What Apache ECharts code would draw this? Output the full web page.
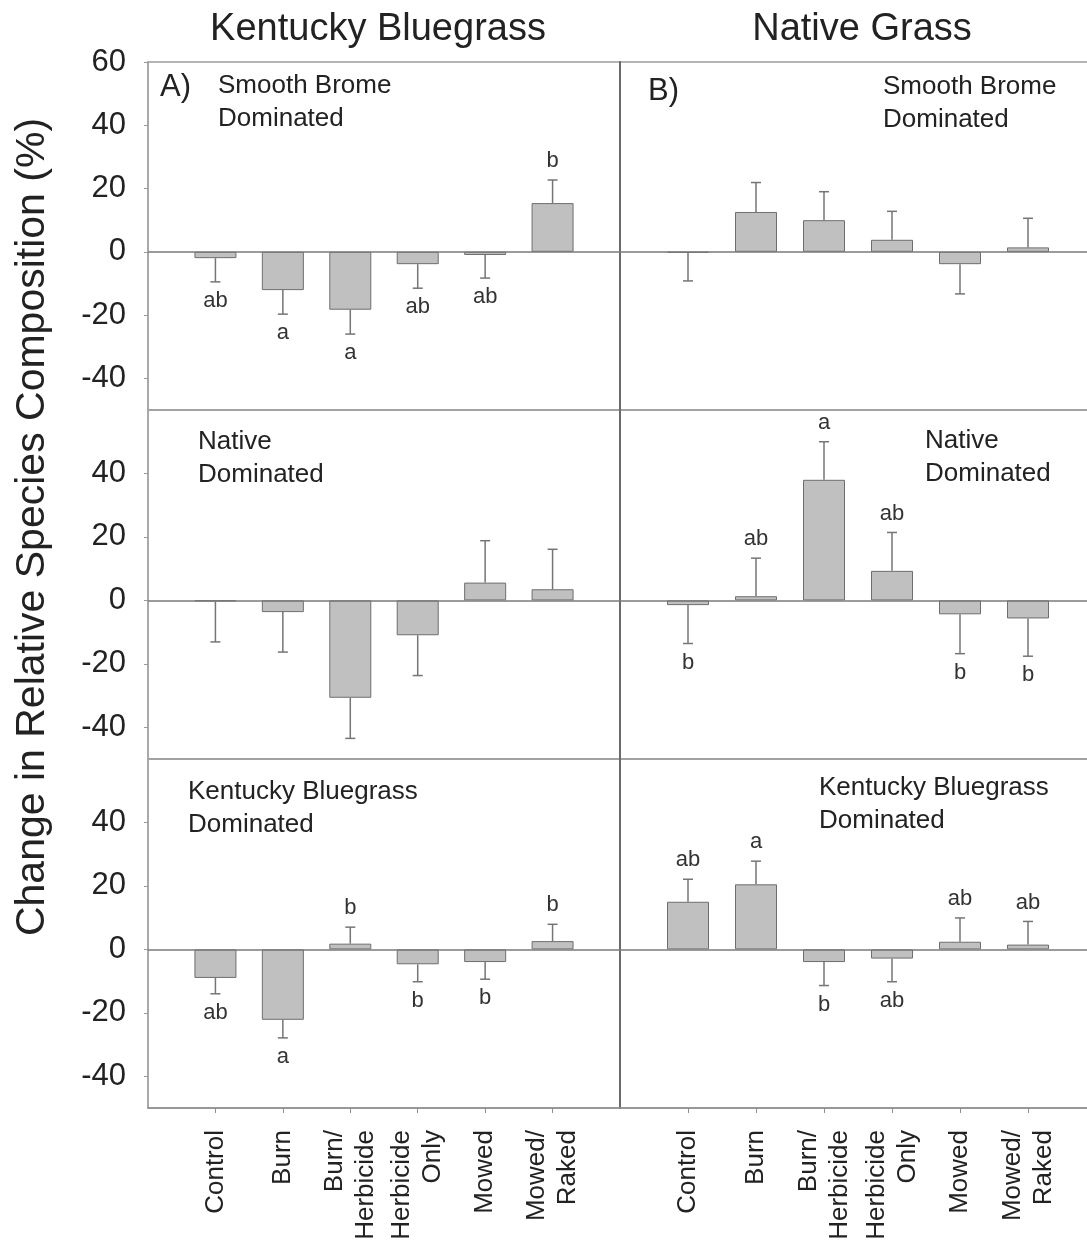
<!DOCTYPE html>
<html lang="en">
<head>
<meta charset="UTF-8">
<title>Change in Relative Species Composition</title>
<script src="https://cdn.jsdelivr.net/npm/echarts@6.0.0/dist/echarts.min.js"></script>
<style>html,body{margin:0;padding:0;background:#fff;}</style>
</head>
<body>
<div id="main" style="width:1087px;height:1246px;"></div>
<script>
// treatments on the x axis
var categories = ['Control', 'Burn', 'Burn/\nHerbicide', 'Herbicide\nOnly', 'Mowed', 'Mowed/\nRaked'];
var yTicksTop = [-40, -20, 0, 20, 40, 60];
var yTicksLower = [-40, -20, 0, 20, 40];

// A) Kentucky Bluegrass
var kbSmoothBrome = [-2.0, -12.1, -18.3, -3.9, -1.0, 15.4];
var kbSmoothBromeErr = [7.5, 7.6, 7.7, 7.6, 7.3, 7.3];
var kbSmoothBromeLetters = ['ab', 'a', 'a', 'ab', 'ab', 'b'];

var kbNative = [-0.3, -3.7, -30.7, -11.0, 5.6, 3.5];
var kbNativeErr = [12.8, 12.6, 12.8, 12.7, 13.2, 12.6];
var kbNativeLetters = ['', '', '', '', '', ''];

var kbBluegrass = [-9.0, -22.2, 1.8, -4.7, -4.0, 2.6];
var kbBluegrassErr = [5.0, 5.7, 5.2, 5.5, 5.4, 5.3];
var kbBluegrassLetters = ['ab', 'a', 'b', 'b', 'b', 'b'];

// B) Native Grass
var ngSmoothBrome = [-0.3, 12.6, 10.0, 3.8, -3.9, 1.4];
var ngSmoothBromeErr = [8.9, 9.3, 9.0, 9.0, 9.4, 9.2];
var ngSmoothBromeLetters = ['', '', '', '', '', ''];

var ngNative = [-1.5, 1.3, 38.0, 9.3, -4.4, -5.7];
var ngNativeErr = [12.1, 12.0, 12.0, 12.1, 12.4, 11.9];
var ngNativeLetters = ['b', 'ab', 'a', 'ab', 'b', 'b'];

var ngBluegrass = [15.0, 20.5, -4.0, -2.9, 2.4, 1.5];
var ngBluegrassErr = [7.1, 7.3, 7.4, 7.3, 7.5, 7.3];
var ngBluegrassLetters = ['ab', 'a', 'b', 'ab', 'ab', 'ab'];

var FONT = '"Liberation Sans", Arial, Helvetica, sans-serif';
var TEXT = '#222';

// rows x columns
var panels = [
    [kbSmoothBrome, kbSmoothBromeErr, kbSmoothBromeLetters],
    [ngSmoothBrome, ngSmoothBromeErr, ngSmoothBromeLetters],
    [kbNative, kbNativeErr, kbNativeLetters],
    [ngNative, ngNativeErr, ngNativeLetters],
    [kbBluegrass, kbBluegrassErr, kbBluegrassLetters],
    [ngBluegrass, ngBluegrassErr, ngBluegrassLetters]
];

var colLeft = [148, 620], colWidth = [472, 476];
var rowTop = [62, 410, 759], rowHeight = [348, 349, 349];
var catValues = categories.map(function (c, i) { return i + 1; });

var makeErrorBar = function (letters) {
    return function (params, api) {
        var x = api.value(0), v = api.value(1), e = api.value(2);
        var dir = v < 0 ? -1 : 1;
        var p0 = api.coord([x, v]);
        var p1 = api.coord([x, v + dir * e]);
        var style = {stroke: '#757575', lineWidth: 1.5};
        var children = [
            {type: 'line', shape: {x1: p0[0], y1: p0[1], x2: p1[0], y2: p1[1]}, style: style},
            {type: 'line', shape: {x1: p1[0] - 5, y1: p1[1], x2: p1[0] + 5, y2: p1[1]}, style: style}
        ];
        var t = letters[params.dataIndex];
        if (t) {
            children.push({
                type: 'text',
                x: p1[0], y: p1[1] - dir * 19,
                style: {text: t, align: 'center', verticalAlign: 'middle',
                        fontSize: 22, fontFamily: FONT, fill: '#333'}
            });
        }
        return {type: 'group', children: children};
    };
};

var grids = [], xAxes = [], yAxes = [], series = [];
for (var r = 0; r < 3; r++) {
    for (var c = 0; c < 2; c++) {
        var idx = r * 2 + c;
        var p = panels[idx];
        var ticks = r === 0 ? yTicksTop : yTicksLower;
        grids.push({
            left: colLeft[c], top: rowTop[r], width: colWidth[c], height: rowHeight[r],
            show: true, borderColor: '#9c9c9c', borderWidth: 1.5,
            outerBoundsMode: 'none', containLabel: false
        });
        xAxes.push({
            gridIndex: idx, type: 'value', min: 0, max: 7, interval: 1,
            show: r === 2,
            axisLine: {show: true, onZero: false, lineStyle: {color: '#8e8e8e', width: 1.5}},
            axisTick: {show: true, customValues: catValues, length: 5, lineStyle: {color: '#8e8e8e'}},
            axisLabel: {
                customValues: catValues, rotate: 90, margin: 22,
                fontSize: 26, lineHeight: 31, color: TEXT, fontFamily: FONT,
                formatter: function (v) { return categories[Math.round(v) - 1] || ''; }
            },
            splitLine: {show: false}
        });
        yAxes.push({
            gridIndex: idx, type: 'value', min: -50, max: 60, interval: 10,
            axisLine: {show: true, lineStyle: {color: c === 0 ? '#a6a6a6' : '#6a6a6a', width: c === 0 ? 1.5 : 2}},
            axisTick: {show: c === 0, customValues: ticks, length: 4, lineStyle: {color: '#9a9a9a'}},
            axisLabel: {
                show: c === 0, customValues: ticks, margin: 22,
                fontSize: 31, color: TEXT, fontFamily: FONT,
                formatter: function (v) { return v; }
            },
            splitLine: {show: false}
        });
        series.push({
            type: 'bar', xAxisIndex: idx, yAxisIndex: idx,
            barWidth: 42,
            data: p[0].map(function (v, i) { return [i + 1, v]; }),
            itemStyle: {color: '#c0c0c0', borderColor: '#6e6e6e', borderWidth: 1},
            markLine: {
                silent: true, symbol: 'none', label: {show: false},
                lineStyle: {color: '#7a7a7a', width: 1.5, type: 'solid'},
                data: [{yAxis: 0}]
            },
            z: 2
        });
        series.push({
            type: 'custom', xAxisIndex: idx, yAxisIndex: idx,
            data: p[0].map(function (v, i) { return [i + 1, v, p[1][i]]; }),
            renderItem: makeErrorBar(p[2]),
            clip: false,
            z: 4
        });
    }
}

var panelText = function (text, x, y) {
    return {
        type: 'text', x: x, y: y,
        style: {text: text, fontSize: 26, lineHeight: 33, fontFamily: FONT, fill: TEXT,
                align: 'left', verticalAlign: 'top'}
    };
};

var graphics = [
    {type: 'text', x: 378, y: 30, style: {text: 'Kentucky Bluegrass', fontSize: 38, fontFamily: FONT, fill: TEXT, align: 'center', verticalAlign: 'middle'}},
    {type: 'text', x: 862, y: 30, style: {text: 'Native Grass', fontSize: 38, fontFamily: FONT, fill: TEXT, align: 'center', verticalAlign: 'middle'}},
    {type: 'text', x: 33, y: 527, rotation: Math.PI / 2,
     style: {text: 'Change in Relative Species Composition (%)', fontSize: 41, fontFamily: FONT, fill: TEXT, align: 'center', verticalAlign: 'middle'}},
    {type: 'text', x: 160, y: 87, style: {text: 'A)', fontSize: 31, fontFamily: FONT, fill: TEXT, align: 'left', verticalAlign: 'middle'}},
    {type: 'text', x: 648, y: 91, style: {text: 'B)', fontSize: 31, fontFamily: FONT, fill: TEXT, align: 'left', verticalAlign: 'middle'}},
    panelText('Smooth Brome\nDominated', 218, 69),
    panelText('Smooth Brome\nDominated', 883, 70),
    panelText('Native\nDominated', 198, 425),
    panelText('Native\nDominated', 925, 424),
    panelText('Kentucky Bluegrass\nDominated', 188, 775),
    panelText('Kentucky Bluegrass\nDominated', 819, 771)
];

var chart = echarts.init(document.getElementById('main'), null, {renderer: 'canvas'});
chart.setOption({
    animation: false,
    backgroundColor: '#fff',
    grid: grids,
    xAxis: xAxes,
    yAxis: yAxes,
    series: series,
    graphic: graphics
});
</script>
</body>
</html>
